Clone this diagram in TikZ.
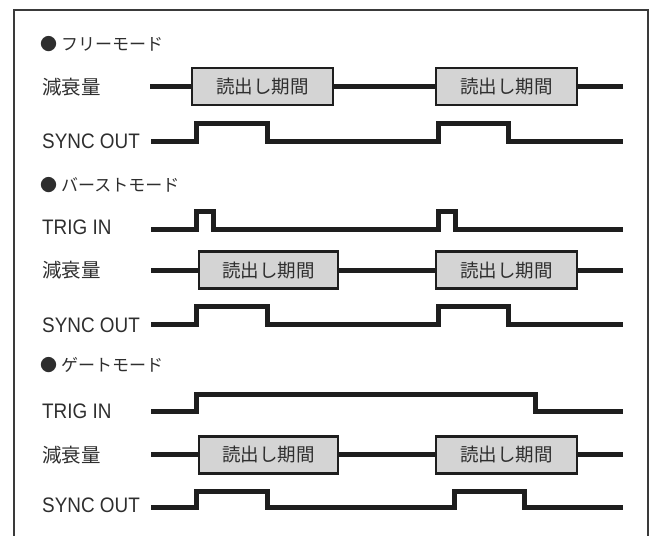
\documentclass[tikz,border=0pt]{standalone}
\usepackage{fontspec}
\setmainfont[FakeStretch=0.9]{Liberation Sans}
\newfontfamily\jp{Noto Sans CJK JP}
\definecolor{txt}{HTML}{2E2E2E}
\definecolor{sig}{HTML}{1E1E1E}
\definecolor{boxfill}{HTML}{D4D4D4}
\definecolor{frm}{HTML}{3A3A3A}
\begin{document}
\begin{tikzpicture}[x=1pt,y=-1pt,
  lbl/.style={anchor=base west, text=txt, inner sep=0pt, font=\fontsize{21}{24}\selectfont},
  jlbl/.style={anchor=west, text=txt, inner sep=0pt, font=\jp\fontsize{19.5}{22}\selectfont},
  ttl/.style={anchor=west, text=txt, inner sep=0pt, font=\jp\fontsize{17}{20}\selectfont},
  rbox/.style={draw=sig, fill=boxfill, line width=2.6pt, minimum width=141pt, minimum height=37pt, inner sep=0pt, text=txt, font=\jp\fontsize{18.5}{22}\selectfont},
  wave/.style={draw=sig, line width=5pt},
  frame/.style={draw=frm, line width=1.6pt}]
\useasboundingbox (0,0) rectangle (654,536);
\draw[frame] (14,537) -- (14,10) -- (648,10) -- (648,537);

% ---------- Free mode ----------
\node[ttl] (t1) at (40,44) {●\hspace{4pt}フリーモード};
\node[jlbl] (a1) at (42,87.5) {減衰量};
\coordinate (a1s) at (150,86.5);
\coordinate (a1e) at (623,86.5);
\node[rbox] (a1b1) at (262.5,86.5) {読出し期間};
\node[rbox] (a1b2) at (506.5,86.5) {読出し期間};
\draw[wave] (a1s) -- (a1b1.west) (a1b1.east) -- (a1b2.west) (a1b2.east) -- (a1e);

\node[lbl] (s1) at (42,148) {SYNC OUT};
\coordinate (s1s) at (151,141);
\coordinate (s1e) at (623,141);
\draw[wave] (s1s) -- (196,141) -- (196,123) -- (267,123) -- (267,141)
  -- (438,141) -- (438,123) -- (508,123) -- (508,141) -- (s1e);

% ---------- Burst mode ----------
\node[ttl] (t2) at (40,185) {●\hspace{4pt}バーストモード};
\node[lbl] (g2) at (42,234) {TRIG IN};
\coordinate (g2s) at (151,229);
\coordinate (g2e) at (623,229);
\draw[wave] (g2s) -- (196,229) -- (196,211) -- (213,211) -- (213,229)
  -- (438,229) -- (438,211) -- (455,211) -- (455,229) -- (g2e);

\node[jlbl] (a2) at (42,270) {減衰量};
\coordinate (a2s) at (151,270);
\coordinate (a2e) at (623,270);
\node[rbox, minimum width=139pt] (a2b1) at (268.5,270) {読出し期間};
\node[rbox] (a2b2) at (506.5,270) {読出し期間};
\draw[wave] (a2s) -- (a2b1.west) (a2b1.east) -- (a2b2.west) (a2b2.east) -- (a2e);

\node[lbl] (s2) at (42,332) {SYNC OUT};
\coordinate (s2s) at (151,324.3);
\coordinate (s2e) at (623,324.3);
\draw[wave] (s2s) -- (196,324.3) -- (196,306.7) -- (267,306.7) -- (267,324.3)
  -- (438,324.3) -- (438,306.7) -- (508,306.7) -- (508,324.3) -- (s2e);

% ---------- Gate mode ----------
\node[ttl] (t3) at (40,365) {●\hspace{4pt}ゲートモード};
\node[lbl] (g3) at (42,418) {TRIG IN};
\coordinate (g3s) at (151,411);
\coordinate (g3e) at (623,411);
\draw[wave] (g3s) -- (196,411) -- (196,394.3) -- (535,394.3) -- (535,411) -- (g3e);

\node[jlbl] (a3) at (42,455) {減衰量};
\coordinate (a3s) at (151,454.7);
\coordinate (a3e) at (623,454.7);
\node[rbox, minimum width=139pt] (a3b1) at (268.5,454.7) {読出し期間};
\node[rbox] (a3b2) at (506.5,454.7) {読出し期間};
\draw[wave] (a3s) -- (a3b1.west) (a3b1.east) -- (a3b2.west) (a3b2.east) -- (a3e);

\node[lbl] (s3) at (42,512) {SYNC OUT};
\coordinate (s3s) at (151,507.7);
\coordinate (s3e) at (623,507.7);
\draw[wave] (s3s) -- (196,507.7) -- (196,491.7) -- (267,491.7) -- (267,507.7)
  -- (454,507.7) -- (454,491.7) -- (524,491.7) -- (524,507.7) -- (s3e);
\end{tikzpicture}
\end{document}
